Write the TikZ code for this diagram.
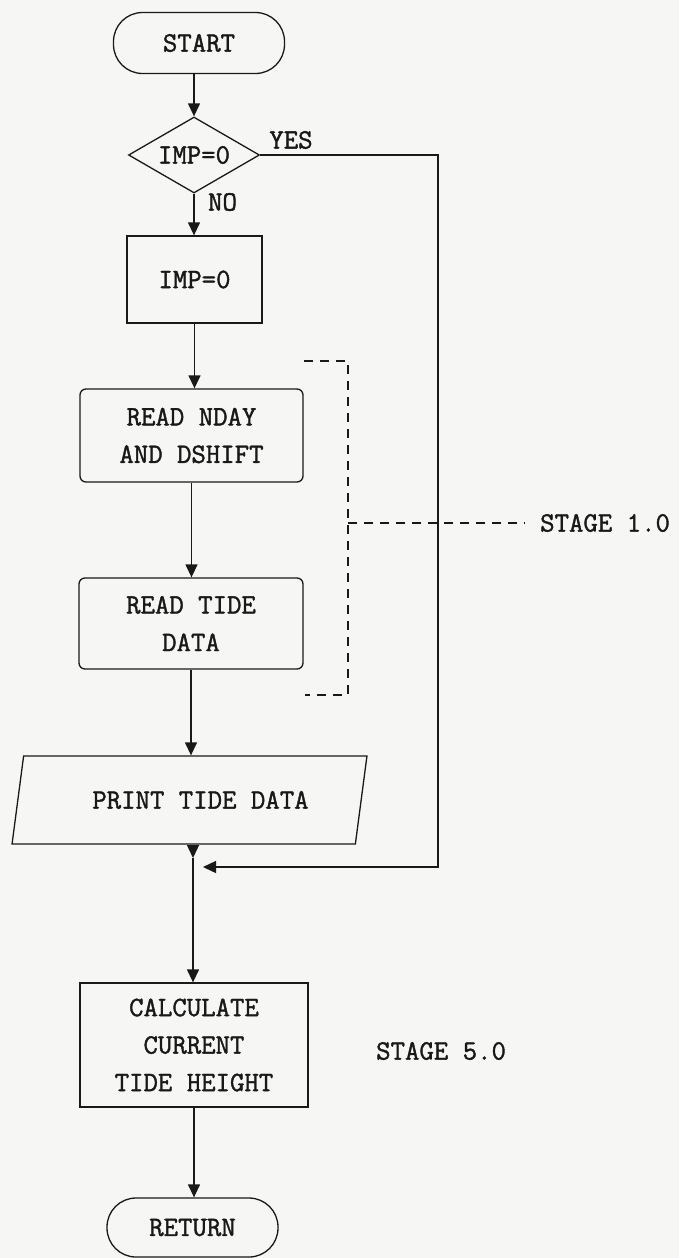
\documentclass[tikz,border=0pt]{standalone}
\usepackage{fontspec}
\setmonofont{Latin Modern Mono}[FakeBold=1.4]
\usetikzlibrary{shapes.geometric,arrows.meta}
\definecolor{paper}{RGB}{246,246,244}
\definecolor{ink}{RGB}{25,25,25}
\begin{document}
\begin{tikzpicture}[x=1pt,y=-1pt,
  every node/.style={font=\ttfamily\fontsize{28}{37.5}\selectfont,text=ink},
  box/.style={draw=ink,line width=1.3pt,rectangle,align=center,inner sep=0pt},
  term/.style={box,rounded corners=29pt},
  card/.style={box,rounded corners=6pt},
  decision/.style={draw=ink,line width=1.3pt,diamond,aspect=1.72,inner sep=0pt},
  io/.style={draw=ink,line width=1.3pt,trapezium,trapezium left angle=65,trapezium right angle=115,trapezium stretches=true,inner sep=0pt},
  lab/.style={inner sep=0pt},
  arr/.style={draw=ink,line width=1.3pt,-{Triangle[width=12pt,length=13pt]}},
  bracket/.style={draw=ink,line width=1.1pt,dash pattern=on 9pt off 7pt}
]
\fill[paper] (0,0) rectangle (679,1258);
\useasboundingbox (0,0) rectangle (679,1258);

\node[term,minimum width=171pt,minimum height=61pt] (start) at (199,43) {START};
\node[decision,minimum width=131pt,minimum height=76pt] (dec) at (194,155) {IMP=0};
\node[box,minimum width=135pt,minimum height=87pt] (imp) at (194.5,279.5) {IMP=0};
\node[card,minimum width=223pt,minimum height=93pt] (rnd) at (191.5,435.5) {READ NDAY\\AND DSHIFT};
\node[card,minimum width=224pt,minimum height=91pt] (rtd) at (191,623.5) {READ TIDE\\DATA};
\node[io,minimum width=355pt,minimum height=88pt] (prt) at (189.5,800) {\hspace*{22pt}PRINT TIDE DATA};
\node[box,minimum width=228pt,minimum height=124pt] (calc) at (194,1045) {CALCULATE\\CURRENT\\TIDE HEIGHT};
\node[term,minimum width=171pt,minimum height=59pt] (ret) at (192.5,1227.5) {RETURN};

\node[lab] (yes) at (291,140) {YES};
\node[lab] (no) at (222.5,202) {NO};
\node[lab,anchor=west] (stage1) at (540,523) {STAGE 1.0};
\node[lab,anchor=west] (stage5) at (376,1051) {STAGE 5.0};

\coordinate (ycol) at (438,0);
\coordinate (mtip) at (193,858);
\coordinate (min) at (203,867);
\coordinate (bx) at (348,0);
\coordinate (btop) at (304,361);
\coordinate (bbot) at (305,695);
\coordinate (bmid) at (348,523);

\draw[arr] (start.south -| dec.north) -- (dec.north);
\draw[arr] (dec.south) -- (dec.south |- imp.north);
\draw[arr] (imp.south) -- (imp.south |- rnd.north);
\draw[arr] (rnd.south) -- (rnd.south |- rtd.north);
\draw[arr] (rtd.south) -- (rtd.south |- prt.north);
\draw[arr] (prt.south -| mtip) -- (mtip);
\draw[arr] (dec.east) -- (dec.east -| ycol) -- (ycol |- min) -- (min);
\draw[arr] (mtip) -- (mtip |- calc.north);
\draw[arr] (calc.south) -- (calc.south |- ret.north);

\draw[bracket] (btop) -- (btop -| bx) -- (bbot -| bx) -- (bbot);
\draw[bracket] (bmid) -- ([xshift=-15pt]stage1.west);
\end{tikzpicture}
\end{document}
